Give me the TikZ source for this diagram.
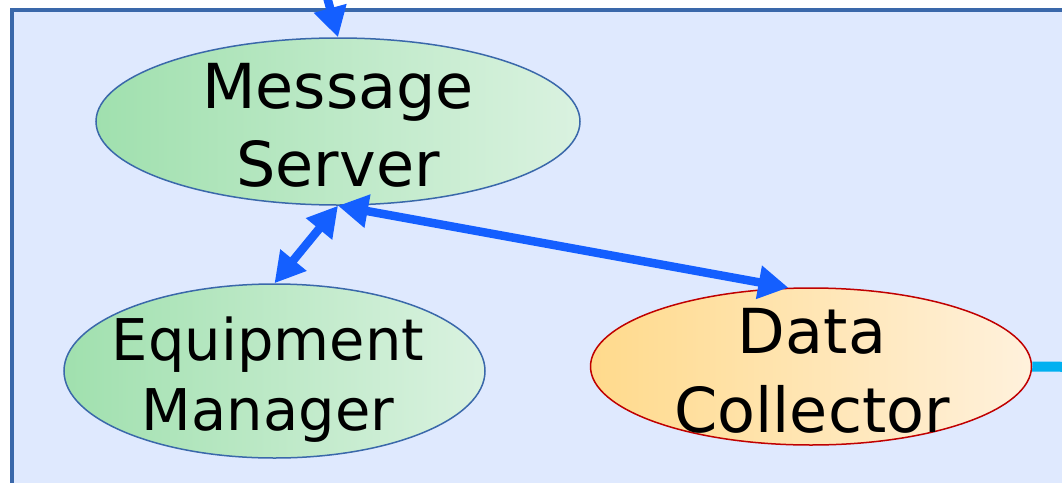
\documentclass[tikz,border=0pt]{standalone}
\usepackage{fontspec}
\setmainfont{DejaVu Sans}
\definecolor{panelblue}{RGB}{223, 233, 254}
\definecolor{frameblue}{RGB}{58, 104, 170}
\definecolor{linkblue}{RGB}{20, 95, 255}
\definecolor{outcyan}{RGB}{0, 176, 240}
\definecolor{greendark}{RGB}{160, 224, 174}
\definecolor{greenlight}{RGB}{218, 242, 224}
\definecolor{orangedark}{RGB}{255, 218, 140}
\definecolor{orangelight}{RGB}{255, 241, 220}
\definecolor{collred}{RGB}{192, 0, 0}
\usetikzlibrary{shapes.geometric, arrows.meta}

\begin{document}
\begin{tikzpicture}[x=1pt, y=-1pt,
  unit/.style={ellipse, inner sep=0pt, line width=1.5pt},
  greenunit/.style={unit, draw=frameblue, left color=greendark, right color=greenlight},
  orangeunit/.style={unit, draw=collred, left color=orangedark, right color=orangelight},
  unitname/.style={align=center, inner sep=0pt},
  link/.style={line width=8.5pt, draw=linkblue},
  tip/.tip={Triangle[length=30pt, width=32pt]},
]
  \useasboundingbox (0,0) rectangle (1062,482);

  % panel
  \draw[line width=4pt, draw=frameblue, fill=panelblue] (11.5,9.8) rectangle (1090,510);

  % units
  \node[greenunit, minimum width=484pt, minimum height=167pt] (ms) at (338,121.5) {};
  \node[greenunit, minimum width=421pt, minimum height=174pt] (em) at (274.5,371) {};
  \node[orangeunit, minimum width=441pt, minimum height=157pt] (dc) at (811,366.5) {};

  \node[unitname, font=\fontsize{62}{78}\selectfont] (mslabel) at (338,125.5) {Message\\Server};
  \node[unitname, font=\fontsize{57.5}{70}\selectfont] (emlabel) at (268,380) {Equipment\\Manager};
  \node[unitname, font=\fontsize{62}{79}\selectfont] (dclabel) at (812,370.5) {Data\\Collector};

  % links
  \coordinate (feed) at (317,-40);
  \coordinate (out) at (1090,367);
  \draw[link, -tip] (feed) -- (ms.north);
  \draw[link, tip-tip] (ms.south) -- (em.north);
  \draw[link, tip-tip] (ms.south) -- (dc.106);
  \draw[line width=10pt, draw=outcyan] (dc.east) -- (out);
\end{tikzpicture}
\end{document}
